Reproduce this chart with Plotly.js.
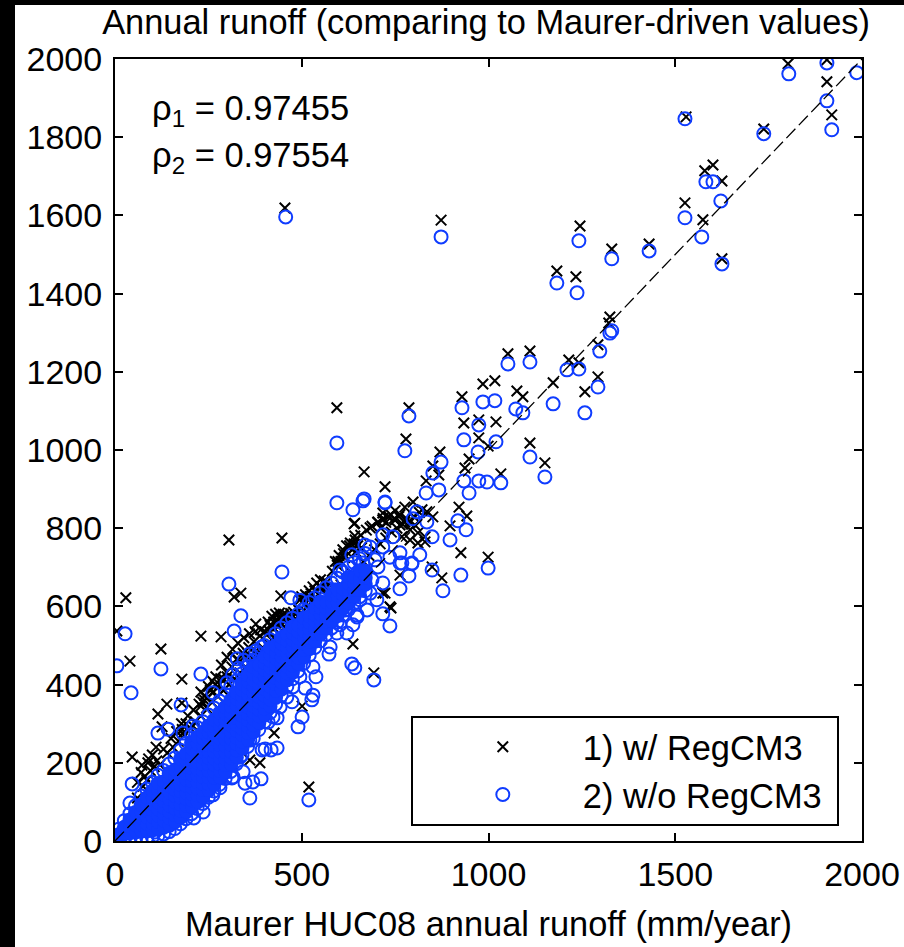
<!DOCTYPE html>
<html><head><meta charset="utf-8">
<script src="https://cdn.plot.ly/plotly-3.0.1.min.js"></script>
<style>html,body{margin:0;padding:0;background:#fff;width:904px;height:947px;overflow:hidden}
#chart{position:absolute;left:0;top:0;width:904px;height:947px}
.band{position:absolute;background:#000;z-index:5}</style>
</head><body><div id="chart"></div>
<div class="band" style="left:0;top:0;width:15px;height:947px"></div>
<div class="band" style="left:0;top:0;width:904px;height:5px"></div>
<script>
const xTicks=[0,500,1000,1500,2000];
const yTicks=[0,200,400,600,800,1000,1200,1400,1600,1800,2000];
const refLineX=[0,2000];
const refLineY=[0,2000];
const blackOutliers=[[1802,1988],[1906,1998],[1906,1942],[1919,1857],[1529,1852],[1737,1821],[1601,1729],[1579,1714],[1625,1688],[1526,1632],[1574,1589],[1330,1514],[1430,1527],[1625,1489],[1325,1340],[1322,1325],[873,1588],[455,1619],[1245,1573],[1183,1458],[1234,1443],[594,1108],
[1052,1246],[1111,1253],[985,1169],[1017,1177],[1076,1151],[1092,1136],[1173,1172],[1215,1230],[1242,1223],[1293,1269],[1293,1187],[1258,1149],[929,1136],[787,1108],[779,1028],[934,1069],[974,1077],[1020,1072],[974,1031],[999,1010],[948,977],[937,954],[870,995],[851,959],[867,936],[833,921],[1111,1018],[1151,967],[1033,939],[667,944],[723,906],[798,867],[776,854],[921,854],[942,831],[897,806],[926,737],[999,726],[849,701],[875,673],[717,634],[739,596],[763,680],
[305,770],[447,775],[29,622],[5,537],[123,491],[40,460],[230,524],[284,522],[377,555],[319,624],[337,634],[444,627],[179,414],[139,350],[115,325],[230,381],[179,353],[46,215],[72,194],[88,200],[126,292],[519,138],[426,276],[388,200],[361,207],[501,345],[637,504],[693,430],[736,599],[723,634],[640,811],[642,780]];
const blackBand=[[60,110],[75,140],[85,155],[95,180],[105,190],[112,205],[120,195],[130,235],[140,225],[150,262],[155,240],[165,280],[170,255],[178,300],[185,270],[195,320],[200,290],[210,335],[215,305],[225,350],[230,320],[240,372],[245,340],[255,385],[260,355],[268,400],[275,370],[283,415],[290,385],[298,432],[305,400],[313,445],[320,415],[328,462],[335,430],[343,480],[350,445],[358,495],[365,460],[372,510],[380,478],[388,525],[395,495],[402,535],[410,505],[418,548],[425,520],[432,560],[440,530],[448,568],[455,540],[463,572],[470,548],[478,585],[485,555],[492,590],[500,565],[508,605],[515,575],[522,625],[530,590],[537,640],[545,605],[552,650],[560,615],[567,662],[575,625],[582,690],[590,640],[597,715],[605,655],[612,735],[620,670],[628,755],[635,685],[643,770],[650,700],[658,782],[665,715],[673,795],[680,730],[688,805],[695,745],[703,815],[710,760],[718,825],[725,775],[733,830],[740,790],[748,825],[755,800],[763,835],[770,810],[780,825],[790,815],[800,830],[815,840],
[405,528],[415,535],[425,545],[435,550],[445,556],[455,560],[465,560],[475,572],[525,610],[535,622],[545,630],[555,640],[565,648],[515,600],[505,590],[495,580],[345,470],[355,480],[290,415],[300,420],[235,355],[245,365],[180,285],[190,300],
[717,821],[731,829],[750,821],[763,808],[776,816],[790,796],[803,808],[811,788],[830,778],[851,829],[822,847],[835,842],[642,813],[683,801],[704,816],[717,839],[768,778],[790,770],[811,762],[830,765],
[285,450],[300,470],[315,490],[329,506],[345,520],[360,530],[375,535],[390,540],[410,560],[420,575],[430,580],[440,583],[450,580],[460,578],[470,582],[415,552],[425,560],[435,565],[445,572],[455,570],[500,625],[510,630],[520,640],[530,650],[540,660],[550,668],[560,665],[505,615],[515,625],[525,632],[535,640],[590,715],[600,730],[610,745],[620,755],[630,762],[640,760],[650,755],[660,750],[595,705],[605,715],[615,725],[625,735],[635,745],[645,740],[712,800],[725,815],[738,835],[750,845],[760,830],[230,345],[240,360],[250,395],[260,410],[270,420],[280,400],[60,150],[70,175],[80,165],[90,210],[100,220],[110,240],
[327,466],[377,486],[262,379],[182,276],[209,294],[495,616]];
const blueOutliers=[[1804,1962],[1906,1990],[1906,1893],[1919,1819],[1986,1965],[1526,1847],[1737,1809],[1582,1686],[1601,1686],[1622,1637],[1526,1594],[1571,1545],[1330,1489],[1430,1509],[1625,1476],[1325,1299],[1330,1305],[873,1545],[457,1596],[1242,1535],[1183,1427],[1237,1402],[594,1018],
[1052,1220],[1111,1225],[985,1123],[1017,1126],[1073,1105],[1092,1095],[1173,1118],[1210,1205],[1242,1207],[1298,1253],[1293,1161],[1258,1095],[929,1108],[787,1087],[776,998],[934,1026],[974,1064],[1020,1021],[972,995],[873,969],[851,941],[867,898],[833,890],[934,921],[974,921],[996,918],[1033,916],[948,890],[1111,982],[1151,931],[667,875],[723,867],[637,847],[808,842],[798,824],[835,816],[918,819],[940,796],[897,770],[849,778],[926,680],[999,698],[849,693],[878,640],[787,678],[763,645],[717,581],[736,550],[816,732],[795,709],[768,711],
[305,657],[447,688],[471,622],[337,576],[319,537],[27,530],[5,448],[43,379],[123,440],[230,427],[177,348],[142,286],[115,276],[46,146],[40,97],[519,105],[361,110],[211,59],[634,453],[642,443],[693,412],[573,478],[530,373],[527,361],[474,356],[509,391],[538,420],[501,317],[490,292],[434,238],[418,233],[402,235],[394,233],[391,159],[369,151],[348,148],[434,315],[410,304],[361,258],[343,177],[313,161],[281,136],[262,118],[236,74],[179,72],[107,23],[13,5],[594,865],[664,870],[723,865],
[717,783],[744,778],[683,752],[717,752],[763,737],[736,726],[704,701],[664,711],[688,668],[648,686],[683,634],[642,634],[656,617],[616,591],[637,553],[648,578],[602,553],[629,642],[696,719],[669,757],[634,732],[602,693],[589,642],
[327,466],[377,486],[262,379],[182,276],[209,294],[495,616],
[423,317],[442,343],[460,368],[476,394],[495,420],[530,445],[576,496],[594,532],[621,532],[648,573],[675,591],[701,617],[717,660],[763,711],[795,711],[335,215],[300,189],[316,164],[262,148],[228,105],[193,79],
[300,405],[315,425],[330,442],[345,462],[360,478],[392,496]];
const blueBandColumns=[[10,[4,16,30]],[25,[5,19,35,52]],[40,[6,21,37,54,70]],[55,[7,23,39,56,73,90]],[70,[8,25,41,58,75,92,115]],[85,[9,26,43,60,76,93,110,133]],[100,[11,28,44,61,78,94,111,128,150]],[115,[14,31,47,64,80,97,113,130,147,168]],[130,[18,35,51,68,84,101,118,134,151,180]],[145,[24,40,57,73,90,106,123,139,156,173,197]],[160,[32,49,65,82,98,115,131,148,164,181,212]],[175,[44,60,77,93,110,126,143,159,176,192,209,232]],[190,[57,74,90,107,123,140,156,173,189,206,222,250]],[205,[70,86,103,119,136,152,169,185,202,218,235,251,272]],[220,[83,100,116,133,149,166,182,199,215,232,248,265,290]],[235,[96,112,129,145,162,178,195,211,228,244,261,277,305]],
[250,[112,129,145,162,178,195,211,228,244,261,277,294,322]],[265,[128,144,161,177,194,210,227,243,260,276,293,309,340]],[280,[145,162,178,195,211,228,244,261,277,294,310,327,358]],[295,[160,176,193,209,226,242,259,275,292,308,325,341,375]],[310,[178,195,211,228,244,261,277,294,310,327,343,360,395]],[325,[198,214,231,247,264,280,297,313,330,346,363,379,410]],[340,[220,237,253,270,286,303,319,336,352,369,385,402,428]],[355,[242,258,275,291,308,324,341,357,374,390,407,423,445]],[370,[262,279,295,312,328,345,361,378,394,411,427,444,462]],[385,[285,301,318,334,351,367,384,400,417,433,450,480]],[400,[305,322,338,355,371,388,404,421,437,454,470,500]],[415,[328,344,361,377,394,410,427,443,460,476,493,515]],[430,[350,367,383,400,416,433,449,466,482,499,530]],[445,[372,388,405,421,438,454,471,487,504,520,545]],[460,[395,412,428,445,461,478,494,511,527,558]],[475,[415,431,448,464,481,497,514,530,547,570]],[490,[435,452,468,485,501,518,534,551,580]],[505,[455,471,488,504,521,537,554,570,592]],[520,[475,492,508,525,541,558,574,610]],[535,[495,511,528,544,561,577,594,622]],[550,[512,529,545,562,578,595,611,635]],[565,[528,544,561,577,594,610,648]],[580,[545,562,578,595,611,628,660]],[595,[560,576,593,609,626,642,672]],[610,[578,595,611,628,644,688]],[625,[592,608,625,641,658,674,700]],[640,[608,625,641,658,674,712]],[655,[625,641,658,674,691,722]],[670,[640,657,673,690,735]]];
const seriesNames=['1) w/ RegCM3','2) w/o RegCM3\u00a0'];
const blackPts=blackOutliers.concat(blackBand);
const bluePts=blueOutliers.concat(blueBandColumns.flatMap(c=>c[1].map(y=>[c[0],y])));
const blueCore=blueBandColumns.flatMap(c=>c[1].slice(1,-1).map(y=>[c[0],y]));
const FONT='"Liberation Sans", Arial, sans-serif';
const BLUE='#0f3cff';
const traces=[
{type:'scatter',mode:'markers',name:seriesNames[0],x:blackPts.map(p=>p[0]),y:blackPts.map(p=>p[1]),
 marker:{symbol:'x-thin',size:10.5,color:'#000',line:{color:'#000',width:2}}},
{type:'scatter',mode:'markers',name:seriesNames[1],x:bluePts.map(p=>p[0]),y:bluePts.map(p=>p[1]),
 marker:{symbol:'circle-open',size:13,color:BLUE,line:{color:BLUE,width:2}}},
{type:'scatter',mode:'markers',showlegend:false,x:blueCore.map(p=>p[0]),y:blueCore.map(p=>p[1]),
 marker:{symbol:'circle',size:13,color:BLUE,line:{width:0}}},
{type:'scatter',mode:'lines',showlegend:false,x:refLineX,y:refLineY,line:{color:'#000',width:1.3,dash:'13px,5px'}}
];
const axisBase={range:[0,2000],autorange:false,showgrid:false,zeroline:false,showline:true,linecolor:'#000',linewidth:2,mirror:'ticks',
 ticks:'inside',ticklen:8,tickwidth:2,tickcolor:'#000',tickfont:{family:FONT,size:34,color:'#000'}};
const layout={width:904,height:947,margin:{l:115,r:42,t:59,b:106,pad:0},paper_bgcolor:'#fff',plot_bgcolor:'#fff',font:{family:FONT,color:'#000'},
 title:{text:'Annual runoff (comparing to Maurer-driven values)',font:{family:FONT,size:34.4,color:'#000'},x:0.4967,xref:'paper',xanchor:'center',y:0.9768,yanchor:'middle'},
 xaxis:Object.assign({},axisBase,{tickmode:'array',tickvals:xTicks,ticktext:xTicks.map(String),ticklabelstandoff:2,title:{text:'Maurer HUC08 annual runoff (mm/year)',font:{family:FONT,size:34.4,color:'#000'},standoff:20}}),
 yaxis:Object.assign({},axisBase,{tickmode:'array',tickvals:yTicks,ticktext:yTicks.map(String),ticklabelstandoff:4}),
 legend:{x:0.396,xanchor:'left',y:0.16,yanchor:'top',bgcolor:'#fff',bordercolor:'#000',borderwidth:2,font:{family:FONT,size:34.4,color:'#000'},indentation:10,itemwidth:150,itemclick:false,itemdoubleclick:false},
 annotations:[
 {xref:'paper',yref:'paper',x:0.0465,y:0.934,xanchor:'left',yanchor:'middle',showarrow:false,text:'ρ<sub>1</sub> = 0.97455',font:{family:FONT,size:34.5,color:'#000'}},
 {xref:'paper',yref:'paper',x:0.0465,y:0.874,xanchor:'left',yanchor:'middle',showarrow:false,text:'ρ<sub>2</sub> = 0.97554',font:{family:FONT,size:34.5,color:'#000'}}
 ]};
Plotly.newPlot('chart',traces,layout,{displayModeBar:false,staticPlot:true});
</script></body></html>
